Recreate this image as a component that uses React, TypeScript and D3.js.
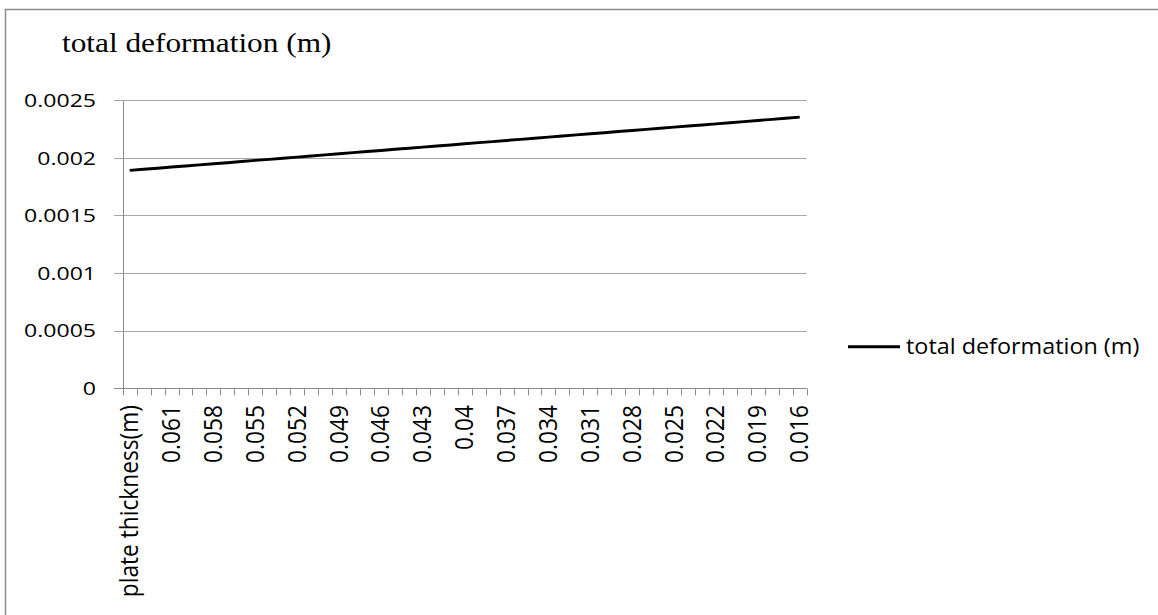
import React from "react";
import * as d3 from "d3";

// Chart content
const chartTitle = "total deformation (m)";
const seriesName = "total deformation (m)";

const categories = [
  "plate thickness(m)",
  "0.063", "0.062", "0.061", "0.06", "0.059", "0.058", "0.057", "0.056",
  "0.055", "0.054", "0.053", "0.052", "0.051", "0.05", "0.049", "0.048",
  "0.047", "0.046", "0.045", "0.044", "0.043", "0.042", "0.041", "0.04",
  "0.039", "0.038", "0.037", "0.036", "0.035", "0.034", "0.033", "0.032",
  "0.031", "0.03", "0.029", "0.028", "0.027", "0.026", "0.025", "0.024",
  "0.023", "0.022", "0.021", "0.02", "0.019", "0.018", "0.017", "0.016",
];

const deformation = [
  0.001891,
  0.001901, 0.00191, 0.00192, 0.001929, 0.001939, 0.001949, 0.001958, 0.001968,
  0.001978, 0.001987, 0.001997, 0.002006, 0.002016, 0.002026, 0.002035, 0.002045,
  0.002055, 0.002064, 0.002074, 0.002083, 0.002093, 0.002103, 0.002112, 0.002122,
  0.002132, 0.002141, 0.002151, 0.00216, 0.00217, 0.00218, 0.002189, 0.002199,
  0.002209, 0.002218, 0.002228, 0.002237, 0.002247, 0.002257, 0.002266, 0.002276,
  0.002285, 0.002295, 0.002305, 0.002314, 0.002324, 0.002334, 0.002343, 0.002353,
];

const yTicks = [0, 0.0005, 0.001, 0.0015, 0.002, 0.0025];
const yTickLabels = ["0", "0.0005", "0.001", "0.0015", "0.002", "0.0025"];
const labelEvery = 3;

// Layout
const W = 1158;
const H = 615;
const plotLeft = 122.7;
const plotRight = 806.7;
const plotTop = 100.2;
const plotBottom = 388.4;

const sansFont = "'Open Sans', 'DejaVu Sans', sans-serif";
const serifFont = "'Liberation Serif', 'Times New Roman', serif";

const gridColor = "#a6a6a6";
const axisColor = "#8c8c8c";

export default function App() {
  const x = d3
    .scaleBand<string>()
    .domain(categories)
    .range([plotLeft, plotRight])
    .padding(0);
  const y = d3.scaleLinear().domain([0, 0.0025]).range([plotBottom, plotTop]);
  const bw = x.bandwidth();
  const cx = (c: string) => (x(c) as number) + bw / 2;

  const line = d3
    .line<number>()
    .x((_, i) => cx(categories[i]))
    .y((d) => y(d));

  const tickXs = d3.range(categories.length + 1).map((i) => plotLeft + i * bw);

  const yLabelSize = 18.6;
  const yLabelStretch = 1.24;
  const xLabelSize = 22.7;
  const xLabelStretch = 1.1;

  return (
    <svg
      width={W}
      height={H}
      style={{ position: "absolute", left: 0, top: 0, background: "#fff" }}
    >
      <rect x={0} y={0} width={W} height={H} fill="#fff" />
      {/* outer chart border */}
      <rect
        x={5.5}
        y={9.5}
        width={W + 20}
        height={H + 20}
        fill="none"
        stroke={axisColor}
        strokeWidth={1.5}
      />

      {/* title */}
      <text
        transform={`translate(62,51.7) scale(1.16,1)`}
        fontFamily={serifFont}
        fontSize={27}
        fill="#000"
      >
        {chartTitle}
      </text>

      {/* horizontal gridlines with outer tick marks */}
      {yTicks.map((t) => (
        <line
          key={"g" + t}
          x1={114}
          x2={plotRight}
          y1={Math.round(y(t)) + 0.5}
          y2={Math.round(y(t)) + 0.5}
          stroke={t === 0 ? axisColor : gridColor}
          strokeWidth={1}
        />
      ))}

      {/* y axis */}
      <line
        x1={Math.round(plotLeft) + 0.5}
        x2={Math.round(plotLeft) + 0.5}
        y1={plotTop}
        y2={plotBottom}
        stroke={axisColor}
        strokeWidth={1}
      />

      {/* x ticks */}
      {tickXs.map((tx, i) => (
        <line
          key={"xt" + i}
          x1={Math.round(tx) + 0.5}
          x2={Math.round(tx) + 0.5}
          y1={plotBottom}
          y2={plotBottom + 7}
          stroke={axisColor}
          strokeWidth={1}
        />
      ))}

      {/* y tick labels */}
      {yTicks.map((t, i) => (
        <text
          key={"yl" + t}
          transform={`translate(96,${y(t) + 6.7}) scale(${yLabelStretch},1)`}
          textAnchor="end"
          fontFamily={sansFont}
          fontSize={yLabelSize}
          fill="#000"
        >
          {yTickLabels[i]}
        </text>
      ))}

      {/* x category labels */}
      {categories.map((c, i) =>
        i % labelEvery === 0 ? (
          <text
            key={"xl" + i}
            transform={`translate(${cx(c) + 8.5},405) scale(${xLabelStretch},1) rotate(-90)`}
            textAnchor="end"
            fontFamily={sansFont}
            fontSize={xLabelSize}
            fill="#000"
          >
            {c}
          </text>
        ) : null
      )}

      {/* series */}
      <path
        d={line(deformation) || ""}
        fill="none"
        stroke="#000"
        strokeWidth={2.9}
        strokeLinejoin="round"
      />

      {/* legend */}
      <line x1={848} x2={900} y1={346.7} y2={346.7} stroke="#000" strokeWidth={2.9} />
      <text
        transform={`translate(906,354) scale(1.03,1)`}
        fontFamily={sansFont}
        fontSize={22.7}
        fill="#000"
      >
        {seriesName}
      </text>
    </svg>
  );
}
